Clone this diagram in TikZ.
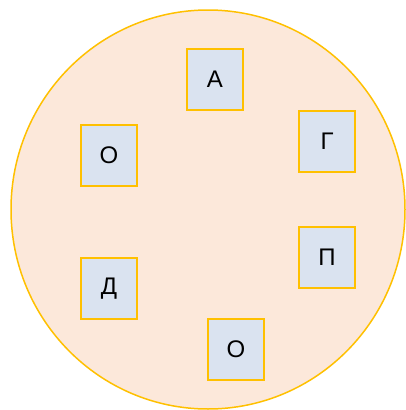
\documentclass[tikz,border=0pt]{standalone}
\usepackage{fontspec}
\usetikzlibrary{shapes.geometric}
\setmainfont{Liberation Sans}
\definecolor{ringfill}{HTML}{FCE8DA}
\definecolor{boxfill}{HTML}{DAE3F0}
\definecolor{gold}{HTML}{FFC000}
\begin{document}
\begin{tikzpicture}[x=1pt,y=-1pt,
  letterbox/.style={draw=gold,fill=boxfill,line width=1.8pt,minimum width=56pt,minimum height=61pt,inner sep=0pt,font=\fontsize{24}{27}\selectfont}]
\useasboundingbox (0,0) rectangle (406,410);
\node[draw=gold,fill=ringfill,line width=1.5pt,ellipse,minimum width=394pt,minimum height=399pt,inner sep=0pt] (ring) at (208,209.5) {};
\node[letterbox] (a) at (215,79.5) {А};
\node[letterbox] (g) at (327,141.5) {Г};
\node[letterbox] (p) at (327,257.5) {П};
\node[letterbox] (o1) at (109,155.5) {О};
\node[letterbox] (d) at (109,288.5) {Д};
\node[letterbox] (o2) at (236,349.5) {О};
\end{tikzpicture}
\end{document}
